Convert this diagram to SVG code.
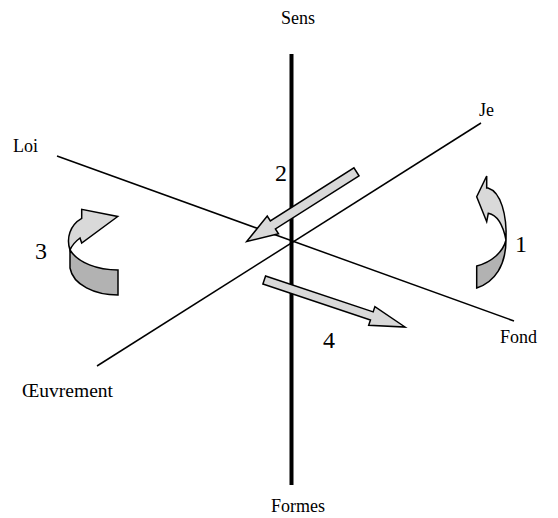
<svg xmlns="http://www.w3.org/2000/svg" width="558" height="518" viewBox="0 0 558 518">
<style>
.lbl{font-family:"Liberation Serif","Times New Roman",serif;font-size:18px;fill:#000}
.num{font-family:"Liberation Serif","Times New Roman",serif;font-size:24px;fill:#000}
.ln{stroke:#000;stroke-width:1.5;fill:none}
.lt{fill:#d9d9d9;stroke:#000;stroke-width:1.5;stroke-linejoin:miter}
.dk{fill:#b2b2b2;stroke:#000;stroke-width:1.5}
</style>
<rect width="558" height="518" fill="#fff"/>
<g id="connectors">
<line class="ln" x1="57" y1="156" x2="514" y2="321"/>
<line class="ln" x1="97" y1="366" x2="481" y2="123"/>
<line x1="291.5" y1="54" x2="291.5" y2="485" stroke="#000" stroke-width="4"/>
</g>
<g id="arrow2">
<polygon class="lt" transform="translate(246.7,241.5) rotate(147.6)" points="-130,-4.75 -31,-4.75 -31,-10.5 0,0 -31,10.5 -31,4.75 -130,4.75"/>
</g>
<g id="arrow4">
<polygon class="lt" transform="translate(405,327) rotate(18.46)" points="-148.4,-4.25 -35,-4.25 -35,-9.8 0,0 -35,9.8 -35,4.25 -148.4,4.25"/>
</g>
<g id="arrow3">
<path class="dk" d="M70,250 C78,263 98,270 118,270 L118,295 C95,295 73,285 70,268 Z"/>
<path class="lt" d="M70,250 C66,238 70,225 81.7,218.3 L81.7,209.3 L117.7,216.5 L81.7,243 L80,238 C76,241 72,245 70,250 Z"/>
</g>
<g id="arrow1">
<path class="dk" d="M506,240 C506,265 495,282 476.7,288 L476.7,266 C492,262 503,252 506,240 Z"/>
<path class="lt" d="M486.7,176 L476.7,196.7 L486.7,221.7 L488.3,213.3 C497,215 503,225 506,240 C507,215 501,192 488,188 L486.7,188 Z"/>
</g>
<g id="labels">
<text class="lbl" x="298" y="24" text-anchor="middle">Sens</text>
<text class="lbl" x="298" y="512" text-anchor="middle">Formes</text>
<text class="lbl" x="479" y="116">Je</text>
<text class="lbl" x="13" y="152">Loi</text>
<text class="lbl" x="500" y="343">Fond</text>
<text class="lbl" x="22" y="397" textLength="91" lengthAdjust="spacingAndGlyphs">Œuvrement</text>
<text class="num" x="275" y="181">2</text>
<text class="num" x="35" y="259">3</text>
<text class="num" x="515" y="252">1</text>
<text class="num" x="323" y="348">4</text>
</g>
</svg>
